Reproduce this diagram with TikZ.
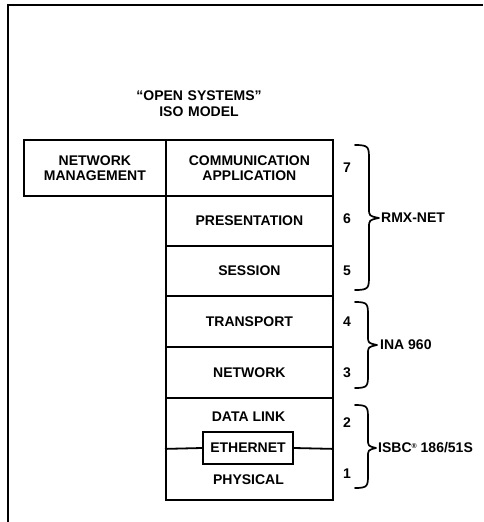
\documentclass[tikz,border=0pt]{standalone}
\usepackage{fontspec}
\setmainfont{Liberation Sans}
\begin{document}
\begin{tikzpicture}[x=1pt,y=-1pt,
  lbl/.style={font=\fontsize{14}{15}\selectfont\bfseries, inner sep=0pt, align=center},
  layer/.style={draw=black, line width=1.8pt, anchor=north west, inner sep=0pt},
  frame/.style={line width=2pt},
  brc/.style={line width=1.7pt, line cap=round, line join=round}
]
\useasboundingbox (0,0) rectangle (483,522);
% frame
\coordinate (ftl) at (8,5);
\coordinate (ftr) at (483,5);
\coordinate (fbl) at (8,522);
\draw[frame] (fbl) -- (ftl) -- (ftr);
% title
\node[lbl, text width=200pt, font=\fontsize{14}{16}\selectfont\bfseries] (title) at (199,104) {“OPEN SYSTEMS”\\ISO MODEL};
% network management
\node[layer, minimum width=142pt, minimum height=56pt] (nm) at (23,139) {};
\node[lbl] (nmt) at (nm.center) {NETWORK\\MANAGEMENT};
% layers
\node[layer, minimum width=167pt, minimum height=56pt] (l7) at (165,139) {};
\node[layer, minimum width=167pt, minimum height=50pt] (l6) at (165,195) {};
\node[layer, minimum width=167pt, minimum height=50pt] (l5) at (165,245) {};
\node[layer, minimum width=167pt, minimum height=51pt] (l4) at (165,295) {};
\node[layer, minimum width=167pt, minimum height=51pt] (l3) at (165,346) {};
\node[layer, minimum width=167pt, minimum height=102pt] (l21) at (165,397) {};
\node[lbl] (t7) at (l7.center) {COMMUNICATION\\APPLICATION};
\node[lbl] (t6) at (l6.center) {PRESENTATION};
\node[lbl] (t5) at (l5.center) {SESSION};
\node[lbl] (t4) at (l4.center) {TRANSPORT};
\node[lbl] (t3) at (l3.center) {NETWORK};
\node[lbl] (t2) at (248.5,417) {DATA LINK};
\node[lbl] (t1) at (248.5,480) {PHYSICAL};
\node[draw=black, line width=1.8pt, fill=white, minimum width=90pt, minimum height=32pt, inner sep=0pt, font=\fontsize{14}{15}\selectfont\bfseries] (eth) at (248,448) {ETHERNET};
\draw[line width=1.8pt] (l21.west) -- (eth.west);
\draw[line width=1.8pt] (eth.east) -- (l21.east);
% numbers
\node[lbl] (n7) at (347,168) {7};
\node[lbl] (n6) at (347,219) {6};
\node[lbl] (n5) at (347,271) {5};
\node[lbl] (n4) at (347,322) {4};
\node[lbl] (n3) at (347,373) {3};
\node[lbl] (n2) at (347,423) {2};
\node[lbl] (n1) at (347,474) {1};
% braces
\coordinate (b1t) at (355,145);
\coordinate (b1m) at (379,218);
\coordinate (b1b) at (355,290);
\draw[brc] (b1t) .. controls (369,145) and (369,147) .. (369,160) -- (369,208)
  .. controls (369,216) .. (b1m) .. controls (369,220) .. (369,228) -- (369,275)
  .. controls (369,288) and (369,290) .. (b1b);
\node[lbl, anchor=west] (rmx) at (381,218) {RMX-NET};
\coordinate (b2t) at (355,302);
\coordinate (b2m) at (377,345);
\coordinate (b2b) at (355,388);
\draw[brc] (b2t) .. controls (368,302) and (368,304) .. (368,316) -- (368,336)
  .. controls (368,343) .. (b2m) .. controls (368,347) .. (368,354) -- (368,374)
  .. controls (368,386) and (368,388) .. (b2b);
\node[lbl, anchor=west] (ina) at (380,345) {INA 960};
\coordinate (b3t) at (355,405);
\coordinate (b3m) at (376,448);
\coordinate (b3b) at (355,488);
\draw[brc] (b3t) .. controls (368,405) and (368,407) .. (368,419) -- (368,439)
  .. controls (368,446) .. (b3m) .. controls (368,450) .. (368,457) -- (368,474)
  .. controls (368,486) and (368,488) .. (b3b);
\node[lbl, anchor=west] (isbc) at (378,448) {ISBC\raisebox{4pt}{\fontsize{7}{7}\selectfont ®} 186/51S};
\end{tikzpicture}
\end{document}
